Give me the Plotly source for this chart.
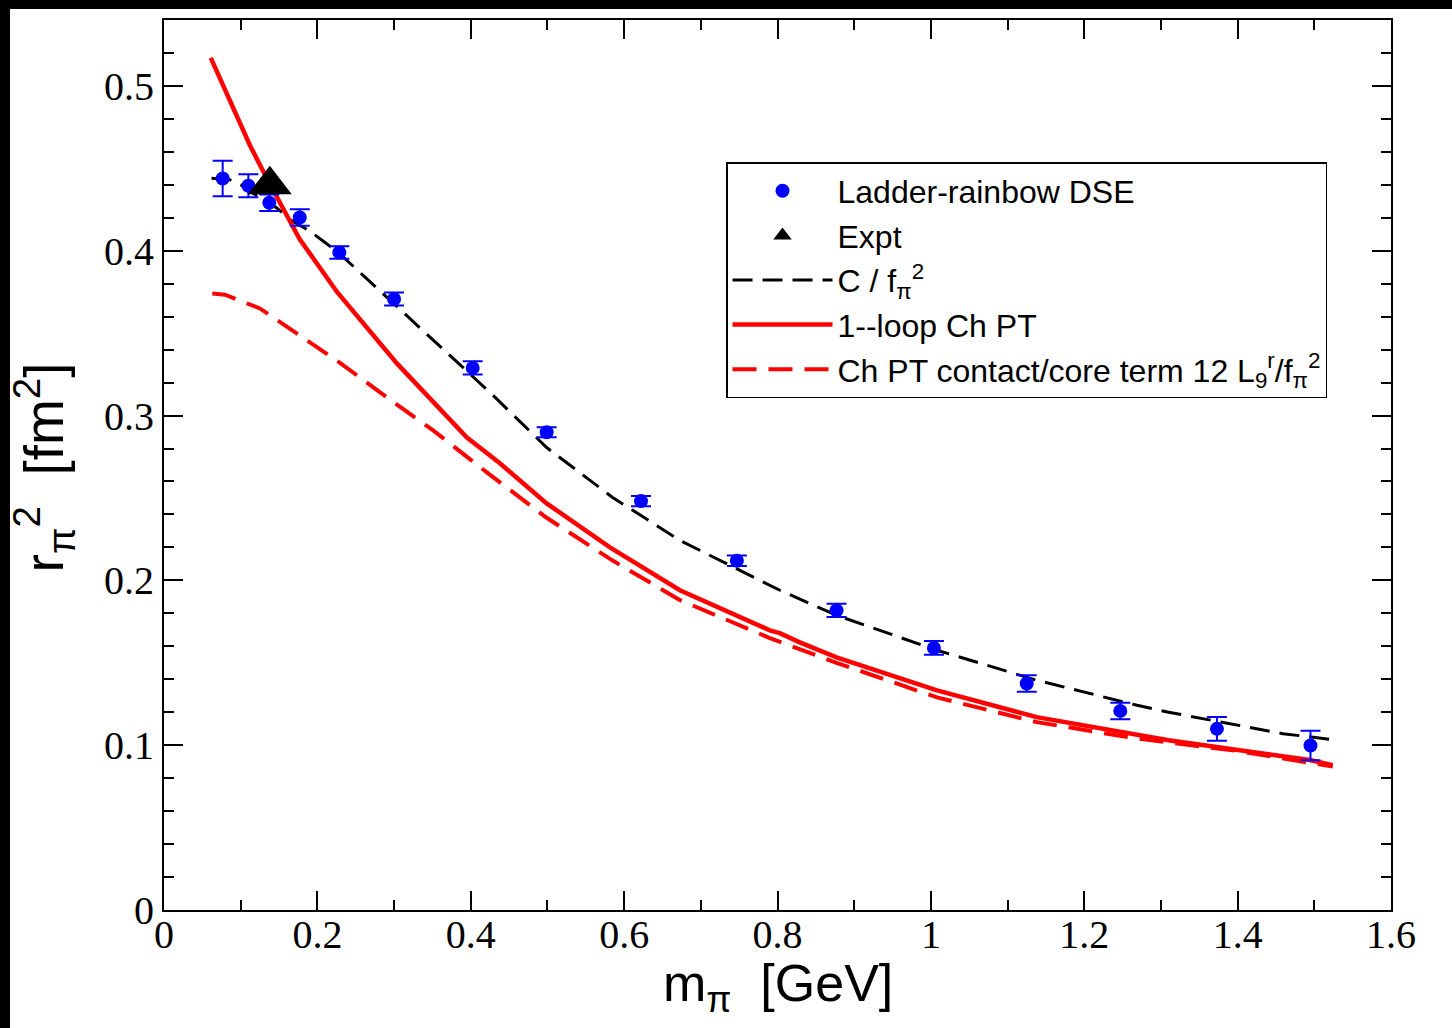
import plotly.graph_objects as go

# DSE data points
dse_m = [0.0765, 0.110, 0.1373, 0.177, 0.2286, 0.300, 0.4025, 0.499, 0.622, 0.747,
         0.877, 1.004, 1.125, 1.247, 1.373, 1.495]
dse_r2 = [0.4438, 0.4394, 0.4291, 0.4202, 0.3990, 0.3707, 0.3289, 0.2899, 0.2481, 0.2119,
          0.1818, 0.1590, 0.1374, 0.1208, 0.1099, 0.0998]
dse_err = [0.0108, 0.0070, 0.0050, 0.0050, 0.0038, 0.0040, 0.0040, 0.0030, 0.0031, 0.0032,
           0.0040, 0.0042, 0.0050, 0.0050, 0.0072, 0.0089]

# Experiment
expt_m = [0.138]
expt_r2 = [0.440]

# C / f_pi^2 curve
c_m = [0.062, 0.086, 0.100, 0.112, 0.130, 0.147, 0.164, 0.190, 0.210, 0.2295, 0.260, 0.328,
       0.4272, 0.499, 0.585, 0.673, 0.803, 0.877, 1.008, 1.138, 1.269, 1.310, 1.459, 1.520]
c_r2 = [0.444, 0.443, 0.440, 0.436, 0.431, 0.426, 0.419, 0.412, 0.405, 0.398, 0.3849, 0.3557,
        0.3131, 0.2806, 0.2503, 0.2242, 0.194, 0.1788, 0.1576, 0.1394, 0.1242, 0.1200,
        0.107, 0.1036]

# 1-loop ChPT curve
loop_m = [0.061, 0.090, 0.112, 0.134, 0.177, 0.2256, 0.304, 0.395, 0.438, 0.499, 0.5815,
          0.6727, 0.790, 0.803, 0.829, 0.877, 1.008, 1.138, 1.269, 1.310, 1.494, 1.524]
loop_r2 = [0.517, 0.487, 0.464, 0.444, 0.407, 0.375, 0.3315, 0.2867, 0.271, 0.2467, 0.220,
           0.194, 0.1697, 0.168, 0.1624, 0.1533, 0.1333, 0.117, 0.106, 0.103, 0.091, 0.0879]

# ChPT contact/core term
core_m = [0.063, 0.0795, 0.125, 0.168, 0.2295, 0.2907, 0.351, 0.421, 0.499, 0.585, 0.673,
          0.790, 0.877, 1.008, 1.138, 1.269, 1.400, 1.524]
core_r2 = [0.374, 0.3733, 0.365, 0.3515, 0.332, 0.311, 0.291, 0.2655, 0.238, 0.212, 0.188,
           0.165, 0.150, 0.129, 0.114, 0.104, 0.0965, 0.087]

x_ticks = [0, 0.2, 0.4, 0.6, 0.8, 1, 1.2, 1.4, 1.6]
x_labels = ["0", "0.2", "0.4", "0.6", "0.8", "1", "1.2", "1.4", "1.6"]
y_ticks = [0, 0.1, 0.2, 0.3, 0.4, 0.5]
y_labels = ["0", "0.1", "0.2", "0.3", "0.4", "0.5"]

fig = go.Figure()

fig.add_trace(go.Scatter(
    x=c_m, y=c_r2, mode="lines", name="C / f<sub>π</sub><sup>2</sup>",
    line=dict(color="black", width=3, dash="20px,10px"), legendrank=3))
fig.add_trace(go.Scatter(
    x=core_m, y=core_r2, mode="lines",
    name="Ch PT contact/core term 12 L<sub>9</sub><sup>r</sup>/f<sub>π</sub><sup>2</sup>",
    line=dict(color="#ff0000", width=4, dash="24px,12px"), legendrank=5))
fig.add_trace(go.Scatter(
    x=loop_m, y=loop_r2, mode="lines", name="1--loop Ch PT",
    line=dict(color="#ff0000", width=4.5), legendrank=4))
fig.add_trace(go.Scatter(
    x=dse_m, y=dse_r2, mode="markers", name="Ladder-rainbow DSE",
    marker=dict(color="#0000ff", size=14, symbol="circle"),
    error_y=dict(type="data", array=dse_err, visible=True, color="#0000ff",
                 thickness=2, width=10), legendrank=1))
fig.add_trace(go.Scatter(
    x=expt_m, y=expt_r2, mode="markers", name="Expt",
    marker=dict(color="black", size=38, symbol="triangle-up"), legendrank=2))

tickfont = dict(family="Liberation Serif", size=40, color="black")
axis_common = dict(
    showgrid=False, zeroline=False, showline=True, linecolor="black", linewidth=2,
    mirror="ticks", ticks="inside", ticklen=19, tickwidth=2, tickcolor="black",
    tickfont=tickfont,
)
fig.update_xaxes(range=[0, 1.6], tickvals=x_ticks, ticktext=x_labels,
                 ticklabelstandoff=-12,
                 minor=dict(dtick=0.1, ticks="inside", ticklen=10, tickwidth=2,
                            tickcolor="black", showgrid=False),
                 **axis_common)
fig.update_yaxes(range=[0, 0.54], tickvals=y_ticks, ticktext=y_labels,
                 minor=dict(dtick=0.02, ticks="inside", ticklen=10, tickwidth=2,
                            tickcolor="black", showgrid=False),
                 **axis_common)

fig.add_annotation(x=0.5, y=-0.047, xref="paper", yref="paper", xanchor="center",
                   yanchor="top", showarrow=False,
                   text="m<sub>π</sub>  [GeV]",
                   font=dict(family="Liberation Sans", size=52, color="black"))
fig.add_annotation(x=-0.098, y=0.497, xref="paper", yref="paper", xanchor="center",
                   yanchor="middle", showarrow=False, textangle=-90,
                   text="r<sub>π</sub><sup>2</sup>  [fm<sup>2</sup>]",
                   font=dict(family="Liberation Sans", size=55, color="black"))

# black frame strips of the original picture (top and left)
fig.add_shape(type="rect", xref="paper", yref="paper", x0=-0.2, x1=1.2,
              y0=(910 - 9) / 890, y1=1.05, fillcolor="black", line_width=0, layer="above")
fig.add_shape(type="rect", xref="paper", yref="paper", x0=-0.2, x1=(10 - 164) / 1227,
              y0=-0.2, y1=1.05, fillcolor="black", line_width=0, layer="above")

fig.update_layout(
    width=1452, height=1028,
    margin=dict(l=164, r=61, t=20, b=118),
    paper_bgcolor="white", plot_bgcolor="white",
    showlegend=True,
    legend=dict(x=(726 - 164) / 1227, y=(910 - 162) / 890, xanchor="left", yanchor="top",
                bgcolor="white", bordercolor="black", borderwidth=1.5,
                font=dict(family="Liberation Sans", size=32, color="black"),
                itemwidth=100, traceorder="normal", tracegroupgap=0),
)

fig.write_html("out.html", config={"displayModeBar": False},
               post_script="document.body.style.margin='0';")
